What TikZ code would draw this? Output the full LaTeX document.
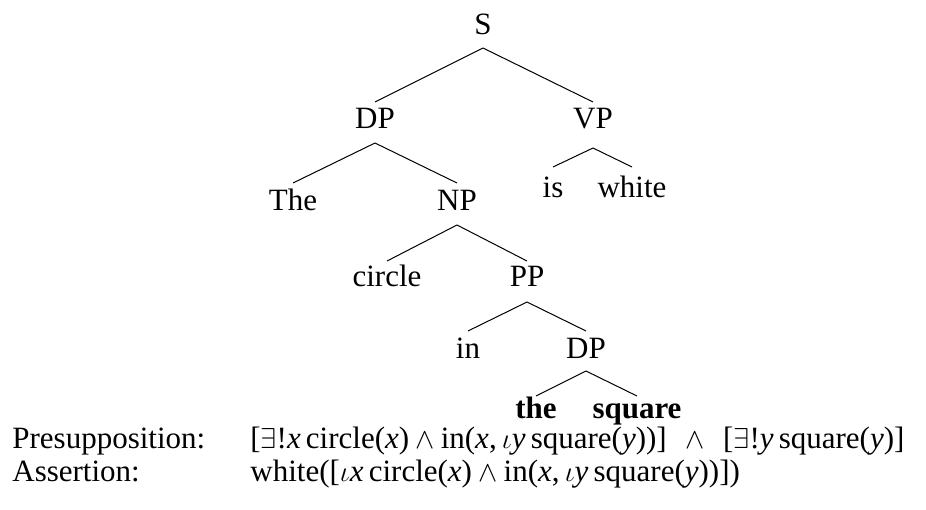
\documentclass[tikz,border=0pt]{standalone}
\usepackage{fontspec}
\setmainfont{Liberation Serif}
\usetikzlibrary{calc}
\newcommand{\vx}{\textit{x}}
\newcommand{\vy}{\textit{y}}
\newcommand{\opand}{\hspace{0.2em}$\wedge$\hspace{0.2em}}
\begin{document}
\begin{tikzpicture}[x=0.5pt,y=-0.5pt,
  every node/.style={inner sep=0pt,anchor=base,font=\fontsize{15.5}{18}\selectfont},
  lbl/.style={anchor=base west},
  edge/.style={line width=0.5pt}]
\useasboundingbox (0,0) rectangle (926,509);
% tree nodes
\node (S) at (483,34) {S};
\node (DP) at (375,128) {DP};
\node (VP) at (593,128) {VP};
\node (The) at (293,210) {The};
\node (NP) at (457,210) {NP};
\node (is) at (553,197) {is};
\node (white) at (632,197) {white};
\node (circle) at (387,286) {circle};
\node (PP) at (527,286) {PP};
\node (in) at (468,358) {in};
\node (DPb) at (586,358) {DP};
\node (the) at (536,418) {\bfseries the};
\node (square) at (637,418) {\bfseries square};
% edges
\draw[edge] ($(S.base)+(0,14)$) -- ($(DP.base)+(0,-26)$);
\draw[edge] ($(S.base)+(0,14)$) -- ($(VP.base)+(0,-26)$);
\draw[edge] ($(DP.base)+(0,15)$) -- ($(The.base)+(0,-27)$);
\draw[edge] ($(DP.base)+(0,15)$) -- ($(NP.base)+(0,-27)$);
\draw[edge] ($(VP.base)+(0,20)$) -- ($(is.base)+(0,-30)$);
\draw[edge] ($(VP.base)+(0,20)$) -- ($(white.base)+(0,-30)$);
\draw[edge] ($(NP.base)+(0,15)$) -- ($(circle.base)+(0,-25)$);
\draw[edge] ($(NP.base)+(0,15)$) -- ($(PP.base)+(0,-25)$);
\draw[edge] ($(PP.base)+(0,16)$) -- ($(in.base)+(0,-27)$);
\draw[edge] ($(PP.base)+(0,16)$) -- ($(DPb.base)+(0,-27)$);
\draw[edge] ($(DPb.base)+(0,13)$) -- ($(the.base)+(0,-22)$);
\draw[edge] ($(DPb.base)+(0,13)$) -- ($(square.base)+(0,-22)$);
% bottom lines
\node[lbl] (presl) at (12,448) {Presupposition:};
\node[lbl] (presf) at (250,448) {[$\exists$!\vx\,circle(\vx)\opand in(\vx,\,$\iota$\vy\,square(\vy))]\hspace{0.6em}$\wedge$\hspace{0.6em}[$\exists$!\vy\,square(\vy)]};
\node[lbl] (assl) at (12,481) {Assertion:};
\node[lbl] (assf) at (250,481) {white([$\iota$\vx\,circle(\vx)\opand in(\vx,\,$\iota$\vy\,square(\vy))])};
\end{tikzpicture}
\end{document}
